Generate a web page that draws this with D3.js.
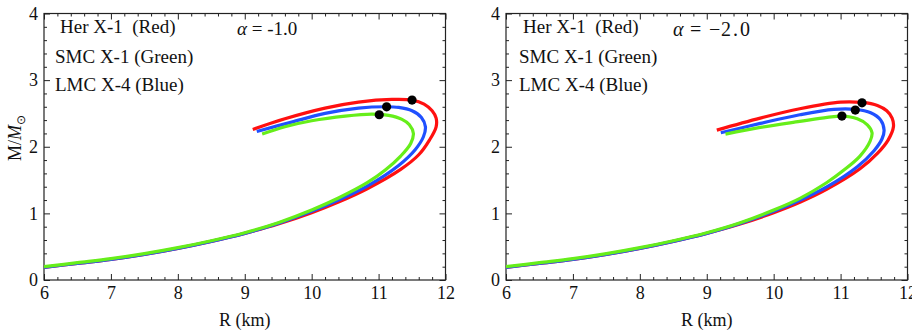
<!DOCTYPE html>
<html>
<head>
<meta charset="utf-8">
<script src="https://cdn.jsdelivr.net/npm/d3@7"></script>
<style>
  body { margin: 0; background: #fff; }
  svg text { font-family: "Liberation Serif", "Times New Roman", serif; fill: #111; }
</style>
</head>
<body>
<div id="chart"></div>
<script>
// mass-radius curves, [R (km), M/Msun]
const herX1_a1 = [[6,0.19],[6.5,0.25],[7,0.31],[7.5,0.385],[8,0.475],[8.5,0.58],[9,0.70],[9.5,0.84],[10,1.01],[10.4,1.17],[10.83,1.37],[11.33,1.66],[11.6,1.88],[11.76,2.1],[11.86,2.3],[11.86,2.43],[11.8,2.54],[11.68,2.64],[11.5,2.70],[11.2,2.71],[10.7,2.67],[10.2,2.58],[9.6,2.42],[9.12,2.26]];
const lmcX4_a1 = [[6,0.19],[6.5,0.25],[7,0.31],[7.5,0.385],[8,0.475],[8.5,0.58],[9,0.70],[9.5,0.85],[10,1.03],[10.4,1.2],[10.83,1.41],[11.3,1.72],[11.55,1.96],[11.67,2.15],[11.70,2.3],[11.64,2.44],[11.5,2.54],[11.3,2.59],[11.12,2.60],[10.7,2.58],[10.2,2.50],[9.7,2.37],[9.18,2.23]];
const smcX1_a1 = [[6,0.2],[6.5,0.26],[7,0.32],[7.5,0.395],[8,0.485],[8.5,0.59],[9,0.71],[9.5,0.86],[10,1.05],[10.4,1.23],[10.83,1.46],[11.1,1.65],[11.33,1.86],[11.48,2.05],[11.52,2.2],[11.46,2.33],[11.35,2.41],[11.15,2.47],[10.9,2.49],[10.5,2.46],[10.0,2.39],[9.6,2.3],[9.26,2.19]];

const herX1_a2 = [[6,0.19],[6.5,0.25],[7,0.31],[7.5,0.385],[8,0.475],[8.5,0.58],[9,0.70],[9.5,0.84],[10,1.01],[10.4,1.17],[10.79,1.36],[11.29,1.67],[11.55,1.9],[11.71,2.1],[11.79,2.3],[11.77,2.43],[11.69,2.54],[11.55,2.62],[11.32,2.665],[11.0,2.67],[10.39,2.57],[9.8,2.43],[9.15,2.25]];
const lmcX4_a2 = [[6,0.19],[6.5,0.25],[7,0.31],[7.5,0.385],[8,0.475],[8.5,0.58],[9,0.70],[9.5,0.85],[10,1.03],[10.4,1.2],[10.8,1.40],[11.25,1.70],[11.5,1.94],[11.62,2.12],[11.65,2.25],[11.6,2.4],[11.45,2.51],[11.22,2.56],[10.9,2.56],[10.39,2.48],[9.8,2.35],[9.21,2.21]];
const smcX1_a2 = [[6,0.2],[6.5,0.26],[7,0.32],[7.5,0.395],[8,0.485],[8.5,0.59],[9,0.71],[9.5,0.86],[10,1.05],[10.4,1.23],[10.79,1.46],[11.05,1.65],[11.29,1.86],[11.44,2.08],[11.47,2.21],[11.4,2.33],[11.25,2.42],[11.02,2.46],[10.8,2.44],[10.39,2.38],[9.8,2.29],[9.28,2.19]];

// black dots: Her X-1, LMC X-4, SMC X-1
const dots_a1 = [[11.50,2.70],[11.12,2.60],[11.01,2.48]];
const dots_a2 = [[11.32,2.66],[11.22,2.55],[11.02,2.46]];

const alphaLabels = ["-1.0", "2.0"];
const legendLines = ["Her X-1  (Red)", "SMC X-1 (Green)", "LMC X-4 (Blue)"];
const xTicks = [6, 7, 8, 9, 10, 11, 12];
const yTicks = [0, 1, 2, 3, 4];

const colors = { her: "#ff1010", lmc: "#2050ff", smc: "#66ee1a" };

const W = 912, H = 332;
const plotTop = 13.5, plotBottom = 280, plotW = 401.5;

const panels = [
  { x0: 44, her: herX1_a1, lmc: lmcX4_a1, smc: smcX1_a1, dots: dots_a1, alpha: alphaLabels[0], legendX: [16, 11, 11] },
  { x0: 506, her: herX1_a2, lmc: lmcX4_a2, smc: smcX1_a2, dots: dots_a2, alpha: alphaLabels[1], legendX: [17, 13, 13] }
];
const legendY = [33, 63, 91];

const svg = d3.select("#chart").append("svg")
  .attr("width", W)
  .attr("height", H);

const x = d3.scaleLinear().domain([6, 12]).range([0, plotW]);
const y = d3.scaleLinear().domain([0, 4]).range([plotBottom, plotTop]);

const minorX = d3.range(31).filter(i => i % 5 !== 0).map(i => 6 + i * 0.2);
const minorY = d3.range(21).filter(i => i % 5 !== 0).map(i => i * 0.2);

const line = d3.line()
  .x(d => x(d[0]))
  .y(d => y(d[1]))
  .curve(d3.curveCatmullRom.alpha(0.5));

panels.forEach((p, pi) => {
  const g = svg.append("g").attr("transform", `translate(${p.x0},0)`);

  // frame ticks (inward, all four sides)
  const axes = [
    [() => d3.axisBottom(x), `translate(0,${plotBottom})`, xTicks, minorX, true],
    [() => d3.axisTop(x), `translate(0,${plotTop})`, xTicks, minorX, false],
    [() => d3.axisLeft(y), "translate(0,0)", yTicks, minorY, true],
    [() => d3.axisRight(y), `translate(${plotW},0)`, yTicks, minorY, false]
  ];
  axes.forEach(([mk, tr, major, minor, labels]) => {
    const gm = g.append("g").attr("transform", tr)
      .call(mk().tickValues(major).tickSize(-6).tickSizeOuter(0).tickPadding(labels ? 6 : 0)
        .tickFormat(labels ? d3.format("d") : ""));
    gm.select(".domain").remove();
    gm.selectAll("line").attr("stroke", "#222");
    gm.selectAll("text").style("font-size", "18px").style("font-family", "Liberation Serif, serif").attr("fill", "#111");
    const gn = g.append("g").attr("transform", tr)
      .call(mk().tickValues(minor).tickSize(-3).tickSizeOuter(0).tickFormat(""));
    gn.select(".domain").remove();
    gn.selectAll("line").attr("stroke", "#222");
  });

  g.append("rect")
    .attr("x", 0).attr("y", plotTop)
    .attr("width", plotW).attr("height", plotBottom - plotTop)
    .attr("fill", "none")
    .attr("stroke", "#222")
    .attr("stroke-width", 1.2);

  // curves: red, blue, green on top
  [["her", p.her], ["lmc", p.lmc], ["smc", p.smc]].forEach(([k, data]) => {
    g.append("path")
      .datum(data)
      .attr("d", line)
      .attr("fill", "none")
      .attr("stroke", colors[k])
      .attr("stroke-width", 3.2);
  });

  g.selectAll(".dot")
    .data(p.dots)
    .enter().append("circle")
    .attr("cx", d => x(d[0]))
    .attr("cy", d => y(d[1]))
    .attr("r", 4.6)
    .attr("fill", "#000");

  // legend text
  legendLines.forEach((t, i) => {
    g.append("text")
      .attr("x", p.legendX[i])
      .attr("y", legendY[i])
      .style("font-size", "19px")
      .style("white-space", "pre")
      .text(t);
  });

  if (pi === 0) {
    const at = g.append("text")
      .attr("x", 193).attr("y", 35)
      .style("font-size", "19px")
      .style("white-space", "pre");
    at.append("tspan").style("font-style", "italic").text("\u03B1");
    at.append("tspan").text(" = " + p.alpha);
  } else {
    // wider, spaced-out setting as in the right panel
    const at = g.append("text")
      .attr("y", 36)
      .style("font-size", "20px");
    at.append("tspan").attr("x", 167).style("font-style", "italic").text("\u03B1");
    at.append("tspan").attr("x", 184).text("=");
    at.append("tspan").attr("x", 203).text("\u2212");
    at.append("tspan").attr("x", 215).style("letter-spacing", "2px").text(p.alpha);
  }

  // x axis title
  g.append("text")
    .attr("x", plotW / 2)
    .attr("y", 326)
    .attr("text-anchor", "middle")
    .style("font-size", "18px")
    .text("R (km)");

  if (pi === 0) {
    const yt = svg.append("text")
      .attr("transform", `translate(21,138) rotate(-90)`)
      .attr("text-anchor", "middle")
      .style("font-size", "18px");
    yt.append("tspan").text("M/");
    yt.append("tspan").style("font-style", "italic").text("M");
    yt.append("tspan").attr("dy", 4).style("font-size", "12px").text("\u2299");
  }
});
</script>
</body>
</html>
